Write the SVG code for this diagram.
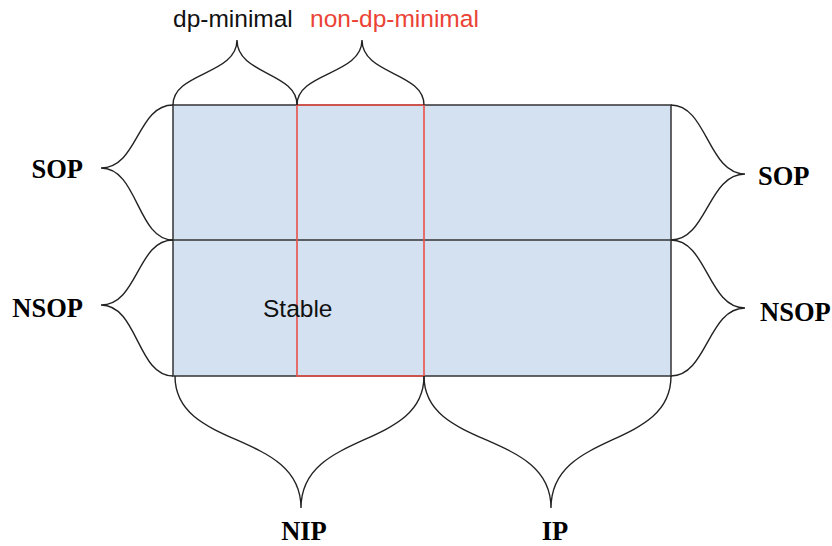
<svg xmlns="http://www.w3.org/2000/svg" width="832" height="546" viewBox="0 0 832 546">
<style>
.box{fill:#d4e1f1;stroke:#333;stroke-width:1.5}
.red{fill:none;stroke:#e8524a;stroke-width:1.6}
.brace{fill:none;stroke:#222;stroke-width:1.4}
.sans{font-family:"Liberation Sans",Arial,sans-serif;font-size:24.5px}
.serif{font-family:"Liberation Serif","Times New Roman",serif;font-size:26.5px;font-weight:bold;fill:#000}
</style>
<rect width="832" height="546" fill="#fff"/>
<g id="grid">
<rect class="box" x="173" y="105" width="498" height="271"/>
<line x1="173" y1="240" x2="671" y2="240" stroke="#333" stroke-width="1.5"/>
</g>
<g id="non-dp-region">
<rect class="red" x="297" y="105" width="127" height="271"/>
</g>
<g id="stable"><text class="sans" x="263" y="317" fill="#111">Stable</text></g>
<g id="braces">
<path class="brace" d="M173,105 C173,72 237,75 237,40 C237,75 297,72 297,105"/>
<path class="brace" d="M297,105 C297,72 362,75 362,40 C362,75 424,72 424,105"/>
<path class="brace" d="M173,105 C137,105 138,168 101,168 C138,168 137,240 173,240"/>
<path class="brace" d="M173,240 C137,240 138,305 101,305 C138,305 137,376 173,376"/>
<path class="brace" d="M671,105 C707,105 708,174 745,174 C708,174 707,240 671,240"/>
<path class="brace" d="M671,240 C707,240 708,308 745,308 C708,308 707,376 671,376"/>
<path class="brace" d="M175,376 C175,450 301,430 301,508 C301,430 424,450 424,376"/>
<path class="brace" d="M424,376 C424,450 551,430 551,508 C551,430 671,450 671,376"/>
</g>
<g id="labels">
<text class="sans" x="173" y="27" fill="#111">dp-minimal</text>
<text class="sans" x="310" y="27" fill="#ea4335">non-dp-minimal</text>
<text class="serif" x="83" y="178" text-anchor="end">SOP</text>
<text class="serif" x="83" y="317" text-anchor="end">NSOP</text>
<text class="serif" x="758" y="185">SOP</text>
<text class="serif" x="760" y="321">NSOP</text>
<text class="serif" x="304" y="540" text-anchor="middle">NIP</text>
<text class="serif" x="555" y="540" text-anchor="middle">IP</text>
</g>
</svg>
